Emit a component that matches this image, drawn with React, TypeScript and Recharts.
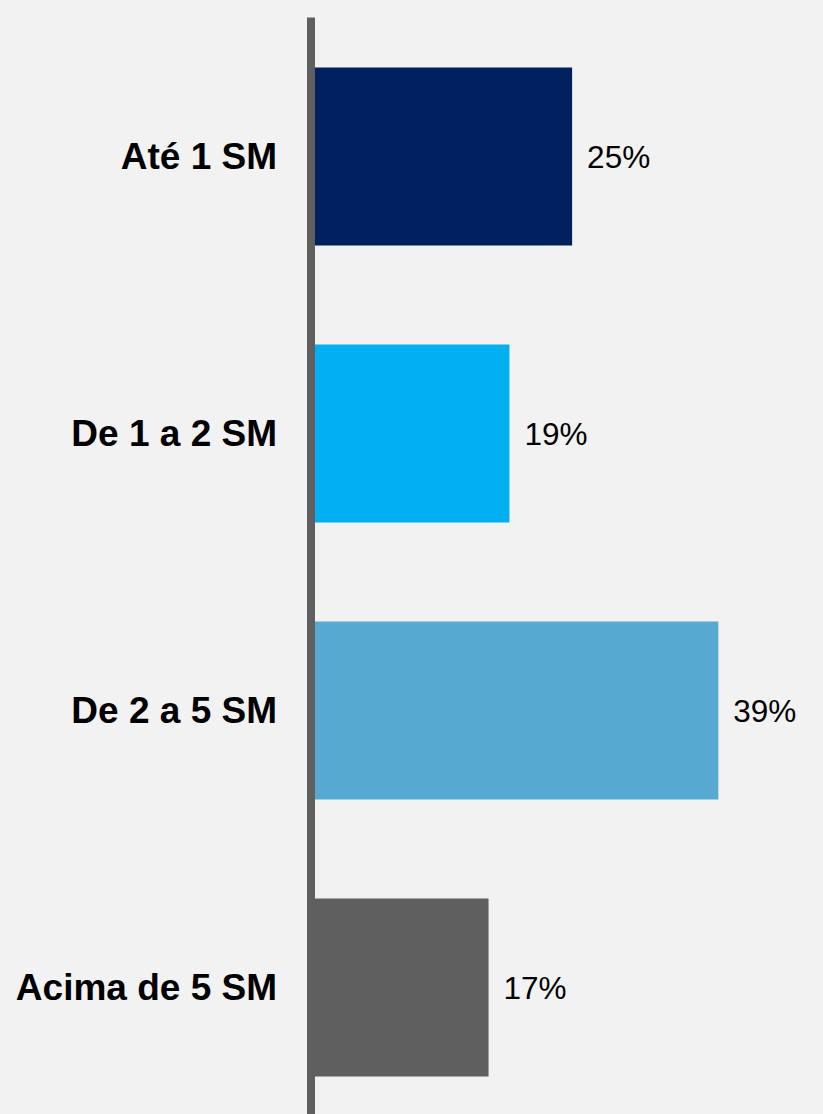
import { BarChart, Bar, XAxis, YAxis, Cell, LabelList } from 'recharts';

const categories = ['Até 1 SM', 'De 1 a 2 SM', 'De 2 a 5 SM', 'Acima de 5 SM'];
const shares = [25, 19, 39, 17];
const barColors = ['#002060', '#00b0f0', '#56a9d0', '#5f5f5f'];

const data = categories.map((faixa, i) => ({ faixa, pct: shares[i] }));

const font = '"Liberation Sans", Arial, sans-serif';

export default function App() {
  return (
    <div style={{ position: 'absolute', left: 0, top: 0, width: 823, height: 1114, overflow: 'hidden', background: '#f2f2f2' }}>
      <BarChart
        layout="vertical" width={823} height={1130} data={data}
        margin={{ top: 17.5, right: 42, bottom: 4.5, left: 0 }}
      >
        <XAxis type="number" domain={[0, 45]} hide />
        <YAxis
          type="category" dataKey="faixa" width={311}
          axisLine={{ stroke: '#5f5f5f', strokeWidth: 8 }} tickLine={false}
          tickSize={0} tickMargin={34}
          tick={{ fill: '#000', fontSize: 37, fontWeight: 'bold', fontFamily: font }}
        />
        <Bar dataKey="pct" barSize={178} isAnimationActive={false}>
          {data.map((d, i) => <Cell key={d.faixa} fill={barColors[i]} />)}
          <LabelList
            dataKey="pct" position="right" offset={15}
            formatter={(v: unknown) => `${v}%`}
            style={{ fill: '#000', fontSize: 31.5, fontFamily: font }}
          />
        </Bar>
      </BarChart>
    </div>
  );
}
